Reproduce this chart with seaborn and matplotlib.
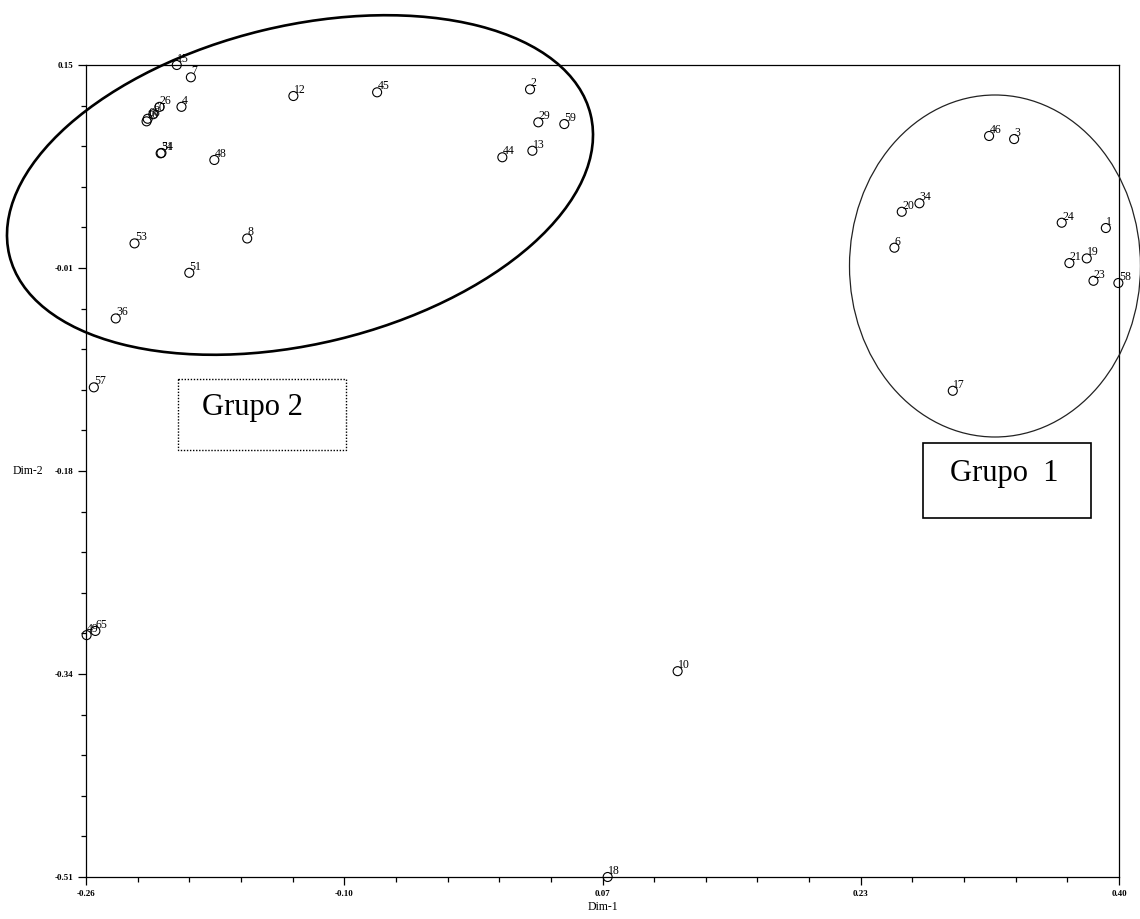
import numpy as np
import pandas as pd
import seaborn as sns
import matplotlib.pyplot as plt
from matplotlib.patches import Ellipse, Rectangle
from matplotlib.transforms import Affine2D
from matplotlib.ticker import AutoMinorLocator

# Point labels and coordinates
labels = ["15", "7", "26", "4", "60", "66", "16", "54", "31", "48", "12", "45",
          "2", "29", "59", "13", "44", "53", "8", "51", "36", "57", "49", "65",
          "10", "18", "46", "3", "20", "34", "6", "24", "1", "21", "19", "23",
          "58", "17"]
dim1 = [-0.202, -0.193, -0.213, -0.199, -0.217, -0.2206, -0.2213, -0.2123, -0.2118, -0.178, -0.1275, -0.074,
        0.0237, 0.029, 0.0456, 0.0252, 0.006, -0.229, -0.157, -0.194, -0.241, -0.255, -0.2596, -0.254,
        0.118, 0.0733, 0.317, 0.333, 0.2612, 0.2725, 0.2565, 0.3634, 0.3916, 0.3683, 0.3794, 0.3837,
        0.3996, 0.2938]
dim2 = [0.150, 0.140, 0.116, 0.116, 0.110, 0.1063, 0.1042, 0.0782, 0.0785, 0.0728, 0.1248, 0.1278,
        0.1302, 0.1034, 0.102, 0.0803, 0.075, 0.005, 0.009, -0.0189, -0.056, -0.112, -0.3134, -0.310,
        -0.3427, -0.51, 0.0923, 0.0898, 0.0307, 0.0376, 0.0015, 0.0218, 0.0175, -0.011, -0.0072, -0.0254,
        -0.0272, -0.1148]

xticks = [-0.26, -0.095, 0.07, 0.235, 0.40]
xtick_labels = ["-0.26", "-0.10", "0.07", "0.23", "0.40"]
yticks = [0.15, -0.015, -0.18, -0.345, -0.51]
ytick_labels = ["0.15", "-0.01", "-0.18", "-0.34", "-0.51"]

df = pd.DataFrame({"id": labels, "Dim-1": dim1, "Dim-2": dim2})

sns.set_style("white")
plt.rcParams["font.family"] = ["Liberation Serif", "DejaVu Serif"]
plt.rcParams["text.color"] = "black"
plt.rcParams["axes.labelcolor"] = "black"

W, H = 1140, 919
fig = plt.figure(figsize=(W / 100, H / 100), dpi=100)
ax = fig.add_axes([86 / W, (H - 877) / H, 1033 / W, 812 / H])

sns.scatterplot(data=df, x="Dim-1", y="Dim-2", ax=ax, marker="o", s=42,
                facecolor="none", edgecolor="black", linewidth=0.8, clip_on=False, zorder=3)
ax.collections[0].set_facecolor("none")

for lab, x, y in zip(df["id"], df["Dim-1"], df["Dim-2"]):
    ax.annotate(lab, (x, y), xytext=(0.3, 2.2), textcoords="offset points",
                ha="left", va="baseline", fontsize=8.5, color="black", annotation_clip=False)

ax.set_xlim(-0.26, 0.40)
ax.set_ylim(-0.51, 0.15)
ax.set_xticks(xticks)
ax.set_xticklabels(xtick_labels)
ax.set_yticks(yticks)
ax.set_yticklabels(ytick_labels)
ax.xaxis.set_minor_locator(AutoMinorLocator(5))
ax.yaxis.set_minor_locator(AutoMinorLocator(5))
ax.tick_params(which="major", direction="out", length=6, width=0.9, colors="black",
               labelsize=6.5, pad=3, left=True, bottom=True)
ax.tick_params(which="minor", direction="out", length=3.5, width=0.9, colors="black",
               left=True, bottom=True)
for t in ax.get_xticklabels() + ax.get_yticklabels():
    t.set_fontweight("bold")
for sp in ax.spines.values():
    sp.set_color("black")
    sp.set_linewidth(0.9)

ax.set_xlabel("Dim-1", fontsize=8.5)
ax.xaxis.set_label_coords(0.5, -0.029)
ax.set_ylabel("Dim-2", fontsize=8.5, rotation=0, ha="right", va="center")
ax.yaxis.set_label_coords(-0.041, 0.5)

# annotations in image pixel coordinates (origin top-left)
px = Affine2D().scale(1 / 100, -1 / 100).translate(0, H / 100) + fig.dpi_scale_trans

fig.add_artist(Ellipse((300, 185), 598, 318, angle=-13.6, transform=px,
                       fill=False, edgecolor="black", linewidth=1.9))
fig.add_artist(Ellipse((995, 266), 291, 342, transform=px,
                       fill=False, edgecolor="#222222", linewidth=0.9))
fig.add_artist(Rectangle((178, 379), 168, 71, transform=px, fill=False,
                         edgecolor="black", linewidth=1.0, linestyle=(0, (1, 1.2))))
fig.add_artist(Rectangle((923, 443), 168, 75, transform=px, fill=False,
                         edgecolor="black", linewidth=1.2))
fig.text(252, 408, "Grupo 2", transform=px, ha="center", va="center", fontsize=22, color="black")
fig.text(1004, 474, "Grupo  1", transform=px, ha="center", va="center", fontsize=22, color="black")

fig.savefig("out.png", dpi=100)
